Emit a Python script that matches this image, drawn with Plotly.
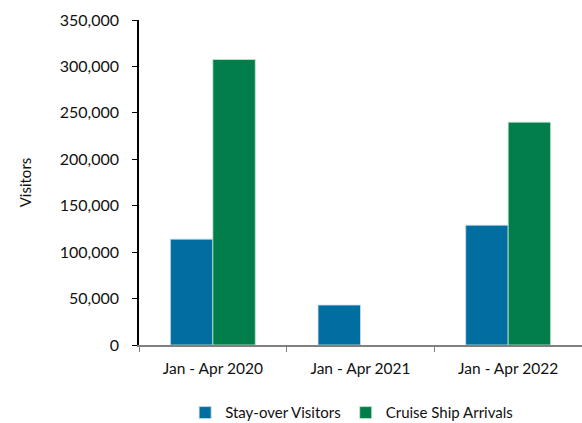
import plotly.graph_objects as go

periods = ["Jan - Apr 2020", "Jan - Apr 2021", "Jan - Apr 2022"]
stay_over = [114000, 43000, 129000]
cruise = [307500, 0, 240000]
y_ticks = [0, 50000, 100000, 150000, 200000, 250000, 300000, 350000]
y_labels = ["0", "50,000", "100,000", "150,000", "200,000", "250,000", "300,000", "350,000"]

font_family = "Lato, 'Open Sans', sans-serif"


def edge_widths(values):
    # no outline on empty bars, so a zero value leaves no stray line
    return [1 if v > 0 else 0 for v in values]


fig = go.Figure()
fig.add_trace(go.Bar(
    x=periods, y=stay_over, name="Stay-over Visitors",
    marker=dict(color="#006EA0",
                line=dict(color="rgba(200,220,230,0.8)", width=edge_widths(stay_over))),
))
fig.add_trace(go.Bar(
    x=periods, y=cruise, name="Cruise Ship Arrivals",
    marker=dict(color="#027E4A",
                line=dict(color="rgba(200,230,210,0.8)", width=edge_widths(cruise))),
))

fig.update_layout(
    width=582, height=423,
    margin=dict(l=139, r=0, t=20, b=78, autoexpand=False),
    paper_bgcolor="white", plot_bgcolor="white",
    barmode="group", bargap=0.425, bargroupgap=0,
    font=dict(family=font_family, size=15, color="#111111"),
    showlegend=True,
    legend=dict(
        orientation="h", x=0.48, xanchor="center",
        yref="container", y=0.024, yanchor="middle",
        font=dict(size=15), itemwidth=30, traceorder="normal",
    ),
    xaxis=dict(
        showline=True, linecolor="#808080", linewidth=2,
        ticks="outside", tickson="boundaries", ticklen=5, tickcolor="#808080",
        showgrid=False, tickfont=dict(size=15.5), automargin=False,
        ticklabelstandoff=8,
    ),
    yaxis=dict(
        range=[0, 350000], tickvals=y_ticks, ticktext=y_labels,
        showline=True, linecolor="black", linewidth=1.5,
        ticks="outside", ticklen=5, tickcolor="black",
        showgrid=False, zeroline=False, tickfont=dict(size=16),
        ticklabelstandoff=10, automargin=False,
        title=dict(text="Visitors", font=dict(size=15), standoff=24),
    ),
)

fig.write_html("out.html")
